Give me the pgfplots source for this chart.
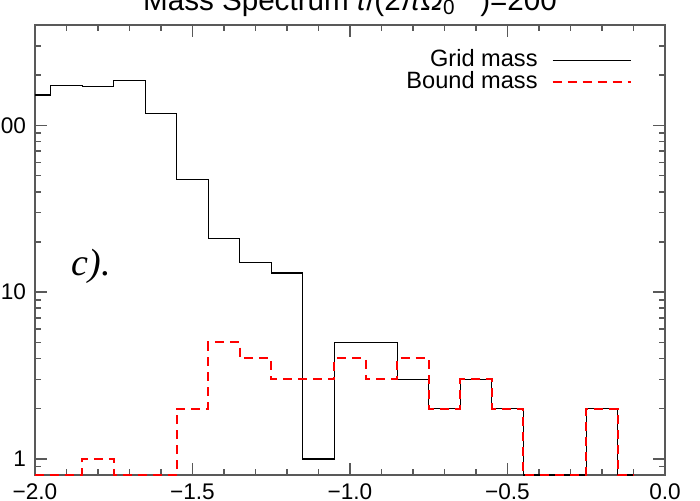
\documentclass[border=0pt]{standalone}
\usepackage{fontspec}
\setmainfont{Liberation Sans}
\newfontfamily\timesfont{Liberation Serif}
\usepackage{pgfplots}
\pgfplotsset{compat=1.18}

% histogram counts per bin (bin width 0.1); empty bins sit on the axis floor (0.8)
\pgfplotstableread{
x     grid   bound
-2.0  152    0.8
-1.9  173    0.8
-1.8  171    1
-1.7  186    0.8
-1.6  118    0.8
-1.5  47.5   2
-1.4  21     5
-1.3  15     4
-1.2  13     3
-1.1  1      3
-1.0  5      4
-0.9  5      3
-0.8  3      4
-0.7  2      2
-0.6  3      3
-0.5  2      2
-0.4  0.8    0.8
-0.3  0.8    0.8
-0.2  2      2
-0.1  0.8    0.8
}\spectrum

\begin{document}
\begin{tikzpicture}
\begin{axis}[
  scale only axis, width=315pt, height=225pt,
  xmin=-2, xmax=0,
  ymode=log, ymin=0.8, ymax=400,
  xtick={-2,-1.5,-1,-0.5,0},
  xticklabels={−2.0,−1.5,−1.0,−0.5,0.0},
  minor x tick num=4,
  ytick={1,10,100}, yticklabels={1,10,100},
  minor ytick={0.9,2,3,4,5,6,7,8,9,20,30,40,50,60,70,80,90,200,300},
  tick align=inside,
  major tick length=6pt, minor tick length=3pt,
  axis line style={black!65, line width=1pt},
  every tick/.style={black!65, line width=0.8pt},
  ticklabel style={font=\fontsize{11.3}{13}\selectfont},
  yticklabel style={xshift=-1pt},
  xticklabel style={yshift=-1pt},
  title={Mass Spectrum \textit{t}/(2\textit{πΩ}\textsubscript{0}\textsuperscript{−1})=200},
  title style={font=\fontsize{14.8}{16}\selectfont, anchor=base, yshift=1.5pt},
  clip=false,
  legend style={draw=none, fill=none, at={(0.9476,0.948)}, anchor=north east,
    inner sep=0pt, row sep=1.5pt, column sep=7pt,
    font=\fontsize{11.8}{14}\selectfont,
    nodes={inner sep=0pt, text height=9pt, text depth=0.5pt}},
  legend cell align=right, legend plot pos=right,
  legend image code/.code={\draw[#1] (0pt,-1pt) -- (39pt,-1pt);},
]
\addplot[const plot mark mid, black, line width=0.7pt] table[x=x, y=grid] {\spectrum};
\addplot[const plot mark mid, red, line width=1pt, dash pattern=on 4.5pt off 3pt] table[x=x, y=bound] {\spectrum};
\legend{Grid mass, Bound mass}
\node[anchor=base west, font=\fontsize{19}{21}\selectfont\timesfont\itshape] at (axis cs:-1.905,12.65) {c).};
\coordinate (ll) at (rel axis cs:0,0);
\coordinate (ur) at (rel axis cs:1,1);
\end{axis}
\pgfresetboundingbox
\path[use as bounding box] ([xshift=-17.5pt,yshift=-12.5pt]ll) rectangle ([xshift=17.5pt,yshift=12.5pt]ur);
\end{tikzpicture}
\end{document}
